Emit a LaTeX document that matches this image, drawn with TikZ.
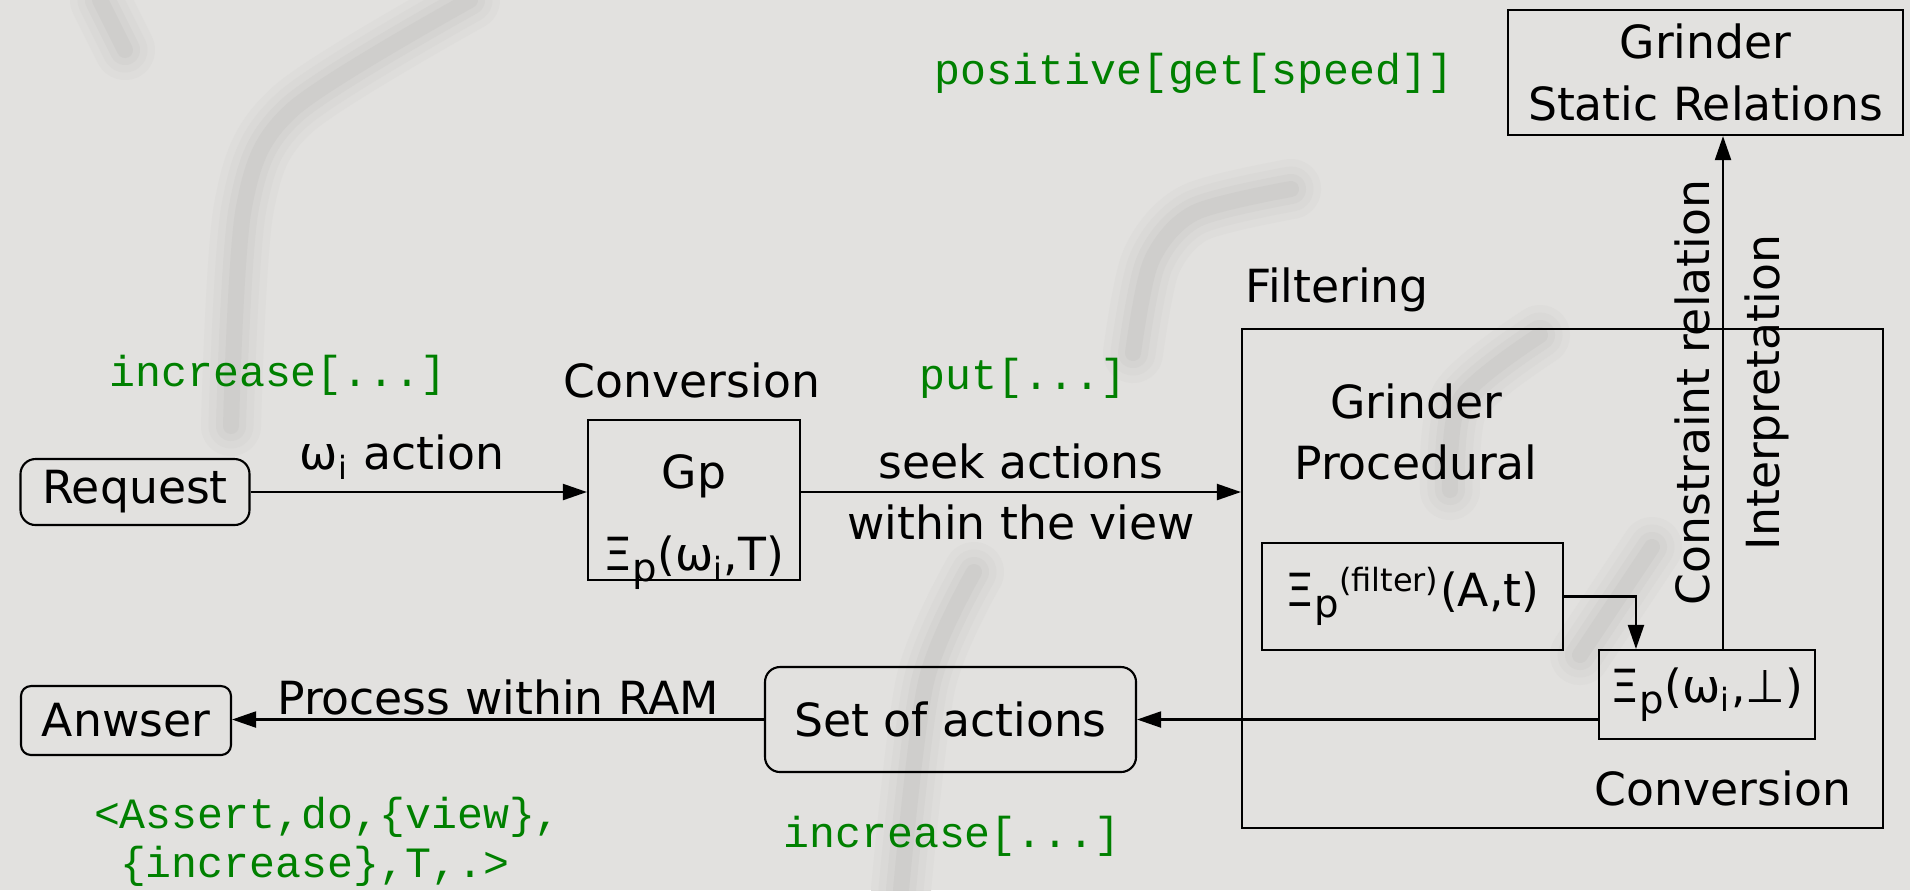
\documentclass[tikz,border=0pt]{standalone}
\usepackage{fontspec}
\setmainfont{DejaVu Sans}
\setmonofont{Liberation Mono}
\usepackage{tikz}
\usetikzlibrary{arrows.meta}
\usetikzlibrary{positioning}
\definecolor{bgc}{RGB}{226,225,223}
\definecolor{smudgeA}{RGB}{222,221,219}
\definecolor{smudgeB}{RGB}{218,217,215}
\definecolor{smudgeC}{RGB}{213,212,210}
\definecolor{smudgeD}{RGB}{207,206,204}
\definecolor{codegreen}{RGB}{0,128,0}
\newcommand{\dn}[1]{\raisebox{-0.45ex}{\fontsize{11}{11}\selectfont #1}}
\newcommand{\ix}{\textsubscript{i}}
\newcommand{\smear}[1]{%
  \draw[-, smudgeA, line width=6mm, line cap=round, line join=round] #1;
  \draw[-, smudgeB, line width=4.5mm, line cap=round, line join=round] #1;
  \draw[-, smudgeC, line width=3mm, line cap=round, line join=round] #1;
  \draw[-, smudgeD, line width=1.6mm, line cap=round, line join=round] #1;}
\tikzstyle{blk} = [rectangle, draw, semithick, inner sep=0pt, align=center]
\tikzstyle{rblk} = [blk, rounded corners=1.5mm]
\tikzstyle{code} = [text=codegreen, inner sep=0pt, align=left,
    font=\ttfamily\fontsize{12.3}{14}\selectfont]

\begin{document}
\begin{tikzpicture}[->,>={Triangle[length=2.4mm,width=1.6mm]},semithick,
                    x=0.1mm,y=-0.1mm,font=\fontsize{13}{17.5}\selectfont]

  % background
  \fill[bgc] (0,0) rectangle (1910,890);
  \useasboundingbox (0,0) rectangle (1910,890);
  \smear{(100,0) -- (125,50)}
  \smear{plot[smooth] coordinates {(470,0) (292,110) (244,207) (231,426)}}
  \smear{plot[smooth] coordinates {(1291,189) (1194,213) (1151,262) (1133,353)}}
  \smear{plot[smooth] coordinates {(974,572) (926,682) (901,890)}}
  \smear{plot[smooth] coordinates {(1540,335) (1460,400) (1450,490)}}
  \smear{(1652,547) -- (1580,655)}

  % boxes
  \node[rblk, minimum width=22.9mm, minimum height=6.6mm] (req) at (135,492) {Request};
  \node[blk, minimum width=21.2mm, minimum height=16mm]  (gp)  at (694,500) {};
  \node[align=center, yshift=-2.2mm] (gptext) at (gp) {Gp\\[6pt]Ξ\dn{p}(ω\ix,T)};
  \node[blk, minimum width=64.1mm, minimum height=49.9mm] (filt) at (1562.5,578.5) {};
  \node[blk, minimum width=30.1mm, minimum height=10.7mm] (flt) at (1412.5,596.5)
       {Ξ\dn{p}\textsuperscript{(filter)}(A,t)};
  \node[blk, minimum width=21.6mm, minimum height=8.9mm]  (xpb) at (1707,694.5)
       {Ξ\dn{p}(ω\ix,⊥)};
  \node[blk, minimum width=39.5mm, minimum height=12.5mm] (gsr) at (1705.5,72.5)
       {Grinder\\Static Relations};
  \node[rblk, minimum width=37.1mm, minimum height=10.5mm] (soa) at (950.5,719.5) {Set of actions};
  \node[rblk, rounded corners=1mm, minimum width=21mm, minimum height=6.9mm] (ans) at (126,720.5) {Anwser};

  % captions
  \node (gpname)   at (692,380)  {Conversion};
  \node (filtname) at (1337,290) {Filtering};
  \node[align=center] (proc) at (1416,432) {Grinder\\Procedural};
  \node (conv)     at (1723,788) {Conversion};

  % green terms
  \node[code] (inc1)   at (278,375)  {increase[...]};
  \node[code] (put)    at (1023,378) {put[...]};
  \node[code] (pos)    at (1194,73)  {positive[get[speed]]};
  \node[code] (inc2)   at (952,836)  {increase[...]};
  \node[code, anchor=west] (assert) at (93,842) {<Assert,do,\{view\},\\~\{increase\},T,.>};

  % connectors
  \coordinate (up) at ([xshift=1.6mm]xpb.north);
  \draw (req.east) -- node[above, pos=0.45] {ω\ix{} action} (req.east -| gp.west);
  \draw (gp.east |- req.east) -- node[above] {seek actions}
        node[below] {within the view} (filt.west |- req.east);
  \draw (flt.east) -| ([xshift=3.8mm]xpb.north west);
  \draw (up) -- node[above, sloped] {Constraint relation}
        node[below, sloped, inner sep=6pt] {Interpretation} (up |- gsr.south);
  \draw (soa.east -| xpb.west) -- (soa.east);
  \draw (soa.west) -- node[above, inner sep=1pt] {Process within RAM} (ans.east |- soa.west);
\end{tikzpicture}
\end{document}
